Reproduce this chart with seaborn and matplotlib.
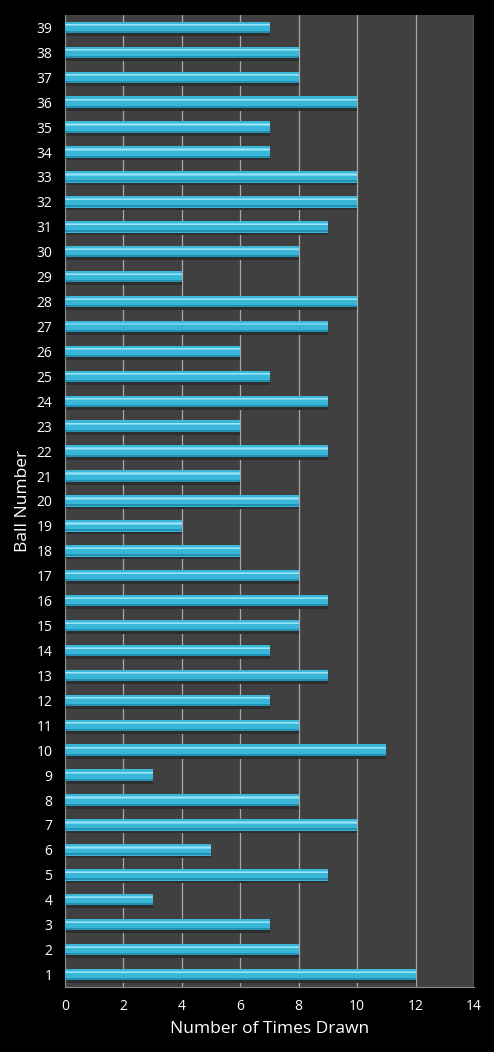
import numpy as np
import pandas as pd
import matplotlib
matplotlib.use("Agg")
import matplotlib.pyplot as plt
import seaborn as sns

# ball numbers and how many times each was drawn
balls = list(range(1, 40))
times_drawn = [12, 8, 7, 3, 9, 5, 10, 8, 3, 11,
               8, 7, 9, 7, 8, 9, 8, 6, 4, 8,
               6, 9, 6, 9, 7, 6, 9, 10, 4, 8,
               9, 10, 10, 7, 7, 10, 8, 8, 7]
x_ticks = [0, 2, 4, 6, 8, 10, 12, 14]

df = pd.DataFrame({"ball": [str(b) for b in balls], "drawn": times_drawn})
order = [str(b) for b in balls[::-1]]

sns.set_style("dark")
plt.rcParams["font.family"] = ["Open Sans", "DejaVu Sans"]

fig = plt.figure(figsize=(4.94, 10.52), dpi=100, facecolor="black")
ax = fig.add_axes([0.1316, 0.0618, 0.828, 0.924])
ax.set_facecolor("#404040")

pos = np.arange(len(order))
vals = df.set_index("ball").loc[order, "drawn"].values

# soft shadow under each bar
ax.barh(pos + 0.27, vals, height=0.14, color="#2e2e2e", linewidth=0, zorder=2)

sns.barplot(data=df, x="drawn", y="ball", order=order, orient="h",
            color="#3ab6d8", saturation=1, width=0.46, ax=ax, zorder=3,
            linewidth=0, edgecolor="none")
# highlight and darker lower edge for the tube look
ax.barh(pos - 0.10, vals, height=0.09, color="#6fd3ee", linewidth=0, zorder=4)
ax.barh(pos - 0.10, vals, height=0.04, color="#9be3f5", linewidth=0, zorder=5)
ax.barh(pos + 0.18, vals, height=0.08, color="#2391b2", linewidth=0, zorder=4)

ax.set_xlim(0, 14)
ax.set_ylim(len(order) - 0.5, -0.5)
ax.set_xticks(x_ticks)
ax.xaxis.grid(True, color="#a8a8a8", linewidth=0.9)
ax.yaxis.grid(False)
ax.set_axisbelow(True)
for s in ["left", "bottom"]:
    ax.spines[s].set_visible(True)
    ax.spines[s].set_color("#8a8a8a")
for s in ["top", "right"]:
    ax.spines[s].set_visible(False)

ax.tick_params(colors="white", labelsize=10, length=0, pad=9)
ax.set_xlabel("Number of Times Drawn", color="white", fontsize=12.5, labelpad=5)
ax.set_ylabel("Ball Number", color="white", fontsize=12.5, labelpad=4)

fig.savefig("out.png", dpi=100, facecolor="black")
